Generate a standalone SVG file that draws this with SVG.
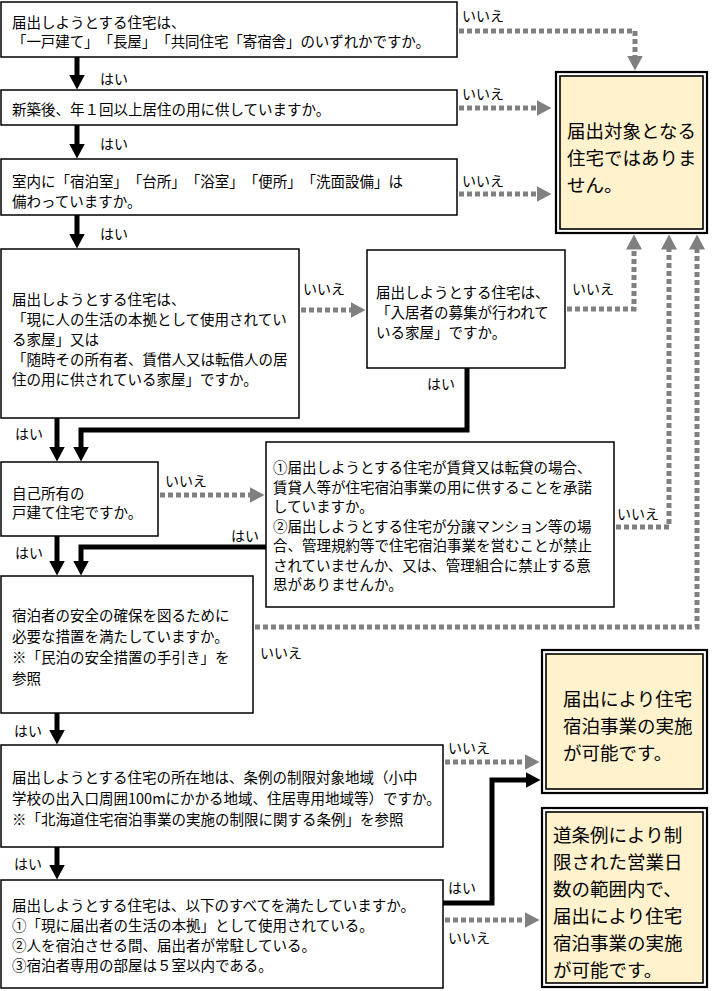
<svg xmlns="http://www.w3.org/2000/svg" width="714" height="991" viewBox="0 0 714 991">
<style>
.box{fill:#fff;stroke:#000;stroke-width:1.5}
.yo{fill:#fff;stroke:#000;stroke-width:2.2}
.yi{fill:#fff2cc;stroke:#000;stroke-width:1.6}
.t{font-family:"Noto Sans CJK JP","Noto Sans CJK SC",sans-serif;font-size:14.5px;fill:#000;dominant-baseline:central;text-spacing-trim:space-all}
.l{font-family:"Noto Sans CJK JP","Noto Sans CJK SC",sans-serif;font-size:14px;fill:#000;dominant-baseline:central}
.yt{font-family:"Noto Sans CJK JP","Noto Sans CJK SC",sans-serif;font-size:18.5px;fill:#000;dominant-baseline:central;text-spacing-trim:space-all}
.gd{fill:none;stroke:#808080;stroke-width:5;stroke-dasharray:5 3}
.bk{fill:none;stroke:#000;stroke-width:5}
</style>
<defs>
<marker id="ab" viewBox="0 0 15 16" refX="0.5" refY="8" markerWidth="15" markerHeight="16" markerUnits="userSpaceOnUse" orient="auto"><path d="M0,0 L15,8 L0,16 z" fill="#000"/></marker>
<marker id="ag" viewBox="0 0 15 16" refX="0.5" refY="8" markerWidth="15" markerHeight="16" markerUnits="userSpaceOnUse" orient="auto"><path d="M0,0 L15,8 L0,16 z" fill="#808080"/></marker>
</defs>

<g id="connectors">
<path class="gd" d="M459,31 H635 V56" marker-end="url(#ag)"/>
<path class="gd" d="M459,108 H537" marker-end="url(#ag)"/>
<path class="gd" d="M459,194 H537" marker-end="url(#ag)"/>
<path class="gd" d="M301,310 H351" marker-end="url(#ag)"/>
<path class="gd" d="M567,309 H634 V249" marker-end="url(#ag)"/>
<path class="gd" d="M160,495 H250" marker-end="url(#ag)"/>
<path class="gd" d="M616,527 H669 V249" marker-end="url(#ag)"/>
<path class="gd" d="M255,627 H697 V249" marker-end="url(#ag)"/>
<path class="gd" d="M445,762 H525" marker-end="url(#ag)"/>
<path class="gd" d="M445,920 H525" marker-end="url(#ag)"/>

<path class="bk" d="M77,57 V75" marker-end="url(#ab)"/>
<path class="bk" d="M77,125 V144" marker-end="url(#ab)"/>
<path class="bk" d="M77,215 V234" marker-end="url(#ab)"/>
<path class="bk" d="M57,418 V447" marker-end="url(#ab)"/>
<path class="bk" d="M467,368 V430 H81 V447" marker-end="url(#ab)"/>
<path class="bk" d="M57,536 V561" marker-end="url(#ab)"/>
<path class="bk" d="M266,547 H81 V561" marker-end="url(#ab)"/>
<path class="bk" d="M57,713 V730" marker-end="url(#ab)"/>
<path class="bk" d="M57,847 V865" marker-end="url(#ab)"/>
<path class="bk" d="M443,903 H492 V780 H526" marker-end="url(#ab)"/>

<text class="l" x="462" y="15">いいえ</text>
<text class="l" x="462" y="93">いいえ</text>
<text class="l" x="462" y="180">いいえ</text>
<text class="l" x="303" y="288">いいえ</text>
<text class="l" x="572" y="288">いいえ</text>
<text class="l" x="165" y="480">いいえ</text>
<text class="l" x="617" y="513">いいえ</text>
<text class="l" x="260" y="652">いいえ</text>
<text class="l" x="448" y="747">いいえ</text>
<text class="l" x="448" y="937">いいえ</text>

<text class="l" x="100" y="78">はい</text>
<text class="l" x="100" y="143">はい</text>
<text class="l" x="100" y="233">はい</text>
<text class="l" x="15" y="433">はい</text>
<text class="l" x="427" y="383">はい</text>
<text class="l" x="15" y="552">はい</text>
<text class="l" x="231" y="535">はい</text>
<text class="l" x="14" y="730">はい</text>
<text class="l" x="14" y="863">はい</text>
<text class="l" x="448" y="887">はい</text>
</g>

<g id="q1">
<rect class="box" x="1" y="2" width="456" height="55"/>
<text class="t" x="12" y="21">届出しようとする住宅は、</text>
<text class="t" x="12" y="40" textLength="418" lengthAdjust="spacing">「一戸建て」「長屋」「共同住宅「寄宿舎」のいずれかですか。</text>
</g>
<g id="q2">
<rect class="box" x="1" y="90" width="456" height="35"/>
<text class="t" x="12" y="108">新築後、年１回以上居住の用に供していますか。</text>
</g>
<g id="q3">
<rect class="box" x="1" y="159" width="456" height="56"/>
<text class="t" x="12" y="180" textLength="391" lengthAdjust="spacing">室内に「宿泊室」「台所」「浴室」「便所」「洗面設備」は</text>
<text class="t" x="12" y="200">備わっていますか。</text>
</g>
<g id="q4">
<rect class="box" x="1" y="249" width="298" height="169"/>
<text class="t" x="12" y="298">届出しようとする住宅は、</text>
<text class="t" x="12" y="318">「現に人の生活の本拠として使用されてい</text>
<text class="t" x="12" y="338">る家屋」又は</text>
<text class="t" x="12" y="358">「随時その所有者、賃借人又は転借人の居</text>
<text class="t" x="12" y="378">住の用に供されている家屋」ですか。</text>
</g>
<g id="q5">
<rect class="box" x="367" y="250" width="198" height="118"/>
<text class="t" x="376" y="291">届出しようとする住宅は、</text>
<text class="t" x="376" y="311">「入居者の募集が行われて</text>
<text class="t" x="376" y="331">いる家屋」ですか。</text>
</g>
<g id="q6">
<rect class="box" x="1" y="462" width="157" height="74"/>
<text class="t" x="12" y="492">自己所有の</text>
<text class="t" x="12" y="511">戸建て住宅ですか。</text>
</g>
<g id="q7">
<rect class="box" x="266" y="442" width="348" height="165"/>
<text class="t" x="273" y="466">①届出しようとする住宅が賃貸又は転貸の場合、</text>
<text class="t" x="273" y="486">賃貸人等が住宅宿泊事業の用に供することを承諾</text>
<text class="t" x="273" y="505">していますか。</text>
<text class="t" x="273" y="525">②届出しようとする住宅が分譲マンション等の場</text>
<text class="t" x="273" y="544">合、管理規約等で住宅宿泊事業を営むことが禁止</text>
<text class="t" x="273" y="564">されていませんか、又は、管理組合に禁止する意</text>
<text class="t" x="273" y="583">思がありませんか。</text>
</g>
<g id="q8">
<rect class="box" x="1" y="576" width="252" height="137"/>
<text class="t" x="12" y="614">宿泊者の安全の確保を図るために</text>
<text class="t" x="12" y="635">必要な措置を満たしていますか。</text>
<text class="t" x="12" y="656">※「民泊の安全措置の手引き」を</text>
<text class="t" x="12" y="677">参照</text>
</g>
<g id="q9">
<rect class="box" x="1" y="745" width="442" height="102"/>
<text class="t" x="12" y="776">届出しようとする住宅の所在地は、条例の制限対象地域（小中</text>
<text class="t" x="12" y="797">学校の出入口周囲100mにかかる地域、住居専用地域等）ですか。</text>
<text class="t" x="12" y="818">※「北海道住宅宿泊事業の実施の制限に関する条例」を参照</text>
</g>
<g id="q10">
<rect class="box" x="1" y="880" width="442" height="108"/>
<text class="t" x="12" y="904">届出しようとする住宅は、以下のすべてを満たしていますか。</text>
<text class="t" x="12" y="924">①「現に届出者の生活の本拠」として使用されている。</text>
<text class="t" x="12" y="944">②人を宿泊させる間、届出者が常駐している。</text>
<text class="t" x="12" y="964">③宿泊者専用の部屋は５室以内である。</text>
</g>
<g id="r1">
<rect class="yo" x="556" y="72" width="151" height="161"/>
<rect class="yi" x="560" y="76" width="143" height="153"/>
<text class="yt" x="567" y="130">届出対象となる</text>
<text class="yt" x="567" y="157">住宅ではありま</text>
<text class="yt" x="567" y="184">せん。</text>
</g>
<g id="r2">
<rect class="yo" x="542" y="650" width="165" height="143"/>
<rect class="yi" x="546" y="654" width="157" height="135"/>
<text class="yt" x="563" y="698">届出により住宅</text>
<text class="yt" x="563" y="725">宿泊事業の実施</text>
<text class="yt" x="563" y="752">が可能です。</text>
</g>
<g id="r3">
<rect class="yo" x="542" y="808" width="165" height="179"/>
<rect class="yi" x="546" y="812" width="157" height="171"/>
<text class="yt" x="553" y="834">道条例により制</text>
<text class="yt" x="553" y="861">限された営業日</text>
<text class="yt" x="553" y="888">数の範囲内で、</text>
<text class="yt" x="553" y="915">届出により住宅</text>
<text class="yt" x="553" y="942">宿泊事業の実施</text>
<text class="yt" x="553" y="969">が可能です。</text>
</g>
</svg>
